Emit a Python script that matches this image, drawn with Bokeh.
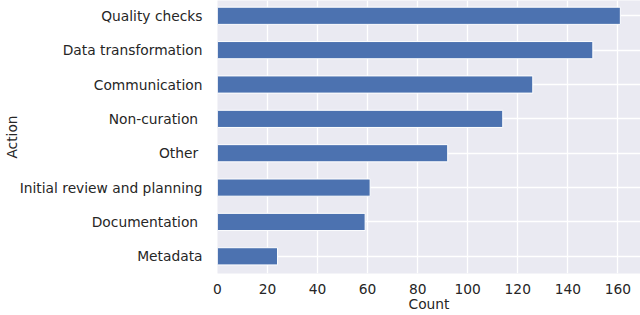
from bokeh.plotting import figure
from bokeh.models import Range1d, FixedTicker, ColumnDataSource
from bokeh.embed import file_html
from bokeh.resources import INLINE

# Data (bottom to top)
actions = ["Metadata", "Documentation ", "Initial review and planning", "Other ",
           "Non-curation ", "Communication", "Data transformation", "Quality checks"]
counts = [24, 59, 61, 92, 114, 126, 150, 161]
x_ticks = [0, 20, 40, 60, 80, 100, 120, 140, 160]

ypos = list(range(len(actions)))
src = ColumnDataSource(dict(y=ypos, count=counts, action=actions))

p = figure(width=640, height=315, output_backend="svg", toolbar_location=None,
           x_range=Range1d(0, 169.05), y_range=Range1d(-0.5, 7.445),
           min_border_left=217, min_border_right=0, min_border_top=0, min_border_bottom=42)

p.background_fill_color = "#EAEAF2"
p.border_fill_color = "white"
p.outline_line_color = None

p.hbar(y="y", right="count", left=0, height=0.5, source=src,
       fill_color="#4C72B0", line_color="white", line_width=1)

font = "DejaVu Sans"
fs = "13.8px"
tc = "#262626"

p.xaxis.ticker = FixedTicker(ticks=x_ticks)
p.yaxis.ticker = FixedTicker(ticks=ypos)
p.yaxis.major_label_overrides = {i: a for i, a in zip(ypos, actions)}

for ax in (p.xaxis[0], p.yaxis[0]):
    ax.axis_line_color = None
    ax.major_tick_line_color = None
    ax.minor_tick_line_color = None
    ax.major_tick_out = 0
    ax.major_tick_in = 0
    ax.major_label_text_font = font
    ax.major_label_text_font_size = fs
    ax.major_label_text_color = tc
    ax.axis_label_text_font = font
    ax.axis_label_text_font_size = fs
    ax.axis_label_text_color = tc
    ax.axis_label_text_font_style = "normal"

p.xaxis.axis_label = "Count"
p.yaxis.axis_label = "Action"
p.xaxis.major_label_standoff = 10
p.xaxis.axis_label_standoff = -1
p.yaxis.major_label_standoff = 15
p.yaxis.axis_label_standoff = -3

p.xgrid.grid_line_color = "white"
p.xgrid.grid_line_width = 1.3
p.ygrid.grid_line_color = "white"
p.ygrid.grid_line_width = 1.3
p.xgrid.level = "underlay"
p.ygrid.level = "underlay"

open("out.html", "w").write(file_html(p, INLINE))
